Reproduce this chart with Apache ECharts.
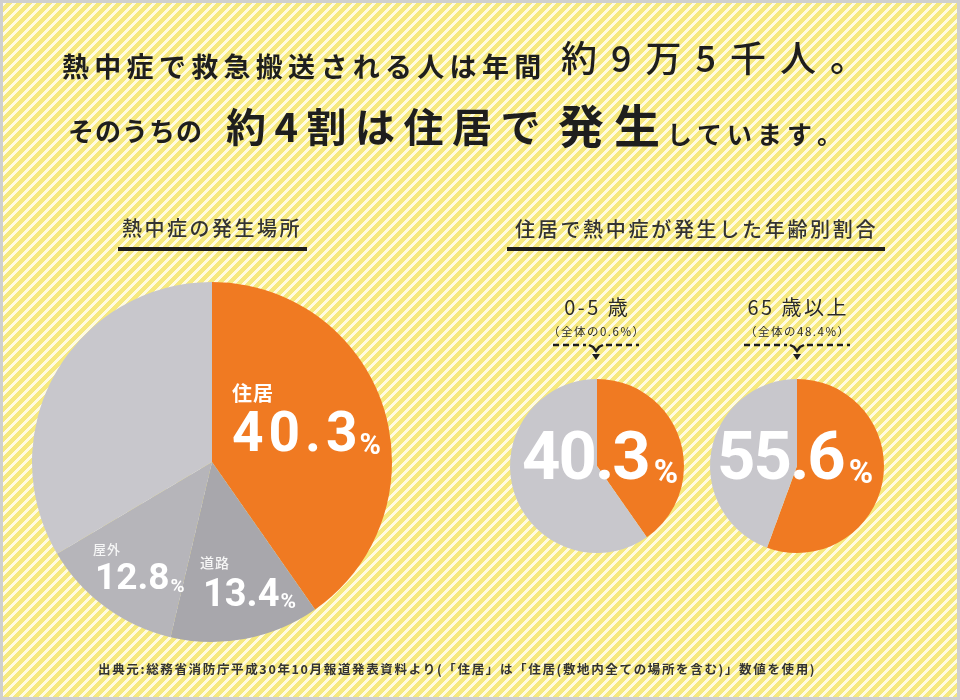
<!DOCTYPE html>
<html><head><meta charset="utf-8">
<script src="https://cdn.jsdelivr.net/npm/echarts@6/dist/echarts.min.js"></script>
<style>
html,body{margin:0;padding:0;background:#fff;}
#chart{width:960px;height:700px;background:repeating-linear-gradient(135deg,#f6e97f 0px,#f6e97f 3.9px,#fffbe2 3.9px,#fffbe2 7.07px);}
</style></head><body><div id="chart"></div>
<script>
// ---- data ----
const placeCategories = ['住居', '道路', '屋外', 'その他'];
const placeValues = [40.3, 13.4, 12.8, 33.5];
const ageLabels = ['0-5 歳', '65 歳以上'];
const ageShareOfTotal = [0.6, 48.4];
const ageHomeValues = [40.3, 55.6];
const ageOtherValues = [59.7, 44.4];
const titleLine1 = ['熱中症で救急搬送される人は年間', '約9万5千人。'];
const titleLine2 = ['そのうちの', '約4割は住居で', '発生', 'しています。'];
const leftHeader = '熱中症の発生場所';
const rightHeader = '住居で熱中症が発生した年齢別割合';
const sourceNote = '出典元:総務省消防庁平成30年10月報道発表資料より(「住居」は「住居(敷地内全ての場所を含む)」数値を使用)';

// ---- styles ----
const ORANGE = '#f07a22';
const placeColors = [ORANGE, '#a8a7ac', '#b6b5ba', '#c8c7cc'];
const ageColors = [ORANGE, '#c8c7cc'];
const JP = "'Noto Sans CJK JP'";
const NUM = "Roboto";

const ctx = document.createElement('canvas').getContext('2d');
function spaced(str, x, y, size, opt) {
  opt = opt || {};
  const family = opt.family || JP;
  const weight = opt.weight || 'bold';
  const font = weight + ' ' + size + 'px ' + family;
  ctx.font = font;
  const sp = opt.spacing || 0;
  const chars = Array.from(str);
  const widths = chars.map(c => ctx.measureText(c).width);
  const total = widths.reduce((a, b) => a + b, 0) + sp * (chars.length - 1);
  let cx = x;
  if (opt.align === 'center') cx = x - total / 2;
  const els = [];
  chars.forEach((c, i) => {
    els.push({
      type: 'text', x: cx, y: y, z: 100, silent: true,
      style: { text: c, font: font, fill: opt.color || '#1e1e1e',
        align: 'left', verticalAlign: 'middle', textAlign: 'left', textVerticalAlign: 'middle' }
    });
    cx += widths[i] + sp;
  });
  els.endX = cx - sp;
  return els;
}
function pct(value, x, y, size, spacing, pSize, pY, gap) {
  const d = spaced(String(value), x, y, size, { family: NUM, weight: 'bold', spacing: spacing, color: '#fff' });
  const p = spaced('%', d.endX + gap, pY, pSize, { family: NUM, weight: 'bold', color: '#fff' });
  return d.concat(p);
}
function brace(cx, y, half) {
  const st = { stroke: '#1e1e1e', lineWidth: 2.5, lineDash: [6, 4], fill: null };
  const st2 = { stroke: '#1e1e1e', lineWidth: 2.5, fill: null };
  return [
    { type: 'line', z: 100, shape: { x1: cx - half, y1: y, x2: cx - 10, y2: y }, style: st },
    { type: 'line', z: 100, shape: { x1: cx + 10, y1: y, x2: cx + half, y2: y }, style: st },
    { type: 'polyline', z: 100, shape: { points: [[cx - 7, y], [cx - 3, y + 2], [cx, y + 6], [cx + 3, y + 2], [cx + 7, y]] }, style: st2 },
    { type: 'polygon', z: 100, shape: { points: [[cx - 4, y + 9], [cx + 4, y + 9], [cx, y + 15]] }, style: { fill: '#1e1e1e' } }
  ];
}

let els = [];
// title
els = els.concat(spaced(titleLine1[0], 62, 67, 27, { spacing: 5.3 }));
els = els.concat(spaced(titleLine1[1], 561, 58, 36, { weight: 500, spacing: 14 }));
els = els.concat(spaced(titleLine2[0], 68, 131, 26, { spacing: 1 }));
els = els.concat(spaced(titleLine2[1], 226, 127, 40, { weight: 'bold', spacing: 8.5 }));
els = els.concat(spaced(titleLine2[2], 558, 126, 46, { weight: 'bold', spacing: 10 }));
els = els.concat(spaced(titleLine2[3], 667, 134, 25, { spacing: 5 }));
// headers
els = els.concat(spaced(leftHeader, 122, 228, 20, { weight: 500, spacing: 2.5, color: '#333' }));
els.push({ type: 'rect', z: 100, shape: { x: 118, y: 247, width: 189, height: 4 }, style: { fill: '#1e1e1e' } });
els = els.concat(spaced(rightHeader, 515, 229, 20, { weight: 500, spacing: 2.7, color: '#333' }));
els.push({ type: 'rect', z: 100, shape: { x: 507, y: 247, width: 378, height: 4 }, style: { fill: '#1e1e1e' } });
// age labels
const ageCenters = [596, 797];
const braceHalf = [43, 53];
ageLabels.forEach((l, i) => {
  els = els.concat(spaced(l, ageCenters[i], 307, 20, { weight: 'normal', spacing: 2.5, color: '#2a2a2a', align: 'center' }));
  els = els.concat(spaced('（全体の' + ageShareOfTotal[i] + '%）', ageCenters[i], 332, 11.5, { weight: 'normal', spacing: 1.5, color: '#2a2a2a', align: 'center' }));
  els = els.concat(brace(ageCenters[i], 345, braceHalf[i]));
});
// left pie labels
els = els.concat(spaced(placeCategories[0], 232, 393, 20, { spacing: 1, color: '#fff' }));
els = els.concat(pct(placeValues[0], 232, 437, 55, 5, 29, 447, 2));
els = els.concat(spaced(placeCategories[2], 93, 549, 13, { weight: 500, spacing: 1, color: '#f6f6f6' }));
els = els.concat(pct(placeValues[2], 95, 580, 37, 0, 19, 587, 1));
els = els.concat(spaced(placeCategories[1], 200, 563, 14, { weight: 500, spacing: 1, color: '#f6f6f6' }));
els = els.concat(pct(placeValues[1], 203, 596, 38, 0, 21, 603, 1));
// right pie labels
els = els.concat(pct(ageHomeValues[0], 522, 462, 67, -2, 33, 475, 3));
els = els.concat(pct(ageHomeValues[1], 717, 462, 67, -2, 33, 475, 3));
// footer
els = els.concat(spaced(sourceNote, 98, 669, 12.5, { weight: 'bold', spacing: 1.65, color: '#333' }));
// frame
els.push({ type: 'rect', z: 101, shape: { x: 1.5, y: 1.5, width: 957, height: 697 }, style: { fill: null, stroke: '#cfcfcf', lineWidth: 3 } });

const chart = echarts.init(document.getElementById('chart'), null, { renderer: 'canvas' });
const baseSeries = { type: 'pie', startAngle: 90, clockwise: true, silent: true, animation: false,
  label: { show: false }, labelLine: { show: false }, emphasis: { disabled: true } };
chart.setOption({
  backgroundColor: 'transparent',
  animation: false,
  series: [
    Object.assign({}, baseSeries, { center: [212, 462], radius: 180,
      data: placeCategories.map((n, i) => ({ name: n, value: placeValues[i], itemStyle: { color: placeColors[i] } })) }),
    Object.assign({}, baseSeries, { center: [597, 466], radius: 87,
      data: [{ name: '住居', value: ageHomeValues[0], itemStyle: { color: ageColors[0] } },
             { name: 'その他', value: ageOtherValues[0], itemStyle: { color: ageColors[1] } }] }),
    Object.assign({}, baseSeries, { center: [797, 466], radius: 87,
      data: [{ name: '住居', value: ageHomeValues[1], itemStyle: { color: ageColors[0] } },
             { name: 'その他', value: ageOtherValues[1], itemStyle: { color: ageColors[1] } }] })
  ],
  graphic: { elements: els }
});
</script></body></html>
